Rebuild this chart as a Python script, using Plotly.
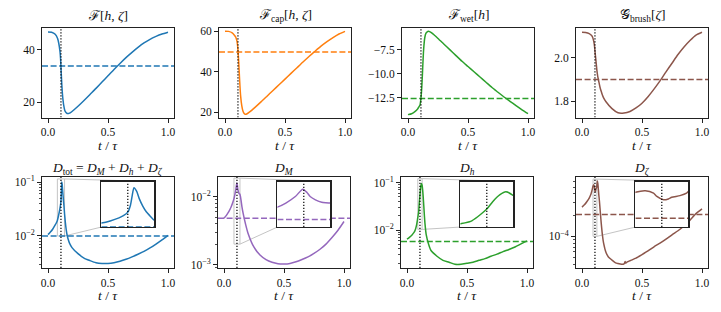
import math
import plotly.graph_objects as go

W, H = 721, 312
FONT = "Liberation Serif"

# ---------------- data ----------------
t_top = [0, 0.03, 0.06, 0.08, 0.09, 0.1, 0.105, 0.11, 0.115, 0.12, 0.125, 0.13, 0.14, 0.15,
         0.16, 0.17, 0.18, 0.2, 0.25, 0.3, 0.35, 0.4, 0.45, 0.5, 0.55, 0.6, 0.65, 0.7, 0.75,
         0.8, 0.85, 0.9, 0.95, 1.0]
F_total = [46.7, 46.6, 45.8, 44.2, 42.3, 39.2, 36.3, 31.2, 26.8, 23.2, 20.8, 19.0, 16.8, 16.0,
           15.65, 15.6, 15.75, 16.4, 18.4, 20.6, 22.9, 25.2, 27.6, 30.0, 32.4, 34.7, 36.9, 38.9,
           40.8, 42.5, 43.9, 45.0, 45.9, 46.6]
F_cap = [60.0, 59.9, 59.2, 57.9, 57.0, 55.0, 52.8, 49.0, 44.0, 38.0, 32.6, 28.3, 23.2, 20.6,
         19.5, 19.1, 19.2, 20.0, 22.5, 25.2, 28.0, 30.8, 33.6, 36.4, 39.2, 42.0, 44.8, 47.5,
         50.1, 52.6, 54.8, 56.8, 58.6, 59.9]
F_wet = [-14.3, -14.2, -13.95, -13.7, -13.5, -13.3, -12.9, -12.3, -11.4, -10.1, -8.7, -7.5, -6.2,
         -5.75, -5.6, -5.55, -5.58, -5.75, -6.3, -6.9, -7.5, -8.1, -8.7, -9.25, -9.8, -10.35,
         -10.9, -11.45, -11.95, -12.45, -12.9, -13.35, -13.8, -14.2]
G_brush = [2.118, 2.117, 2.112, 2.103, 2.093, 2.07, 2.05, 2.02, 1.994, 1.965, 1.938, 1.918, 1.89,
           1.864, 1.845, 1.828, 1.815, 1.797, 1.765, 1.746, 1.745, 1.752, 1.768, 1.79, 1.82,
           1.855, 1.893, 1.935, 1.975, 2.015, 2.05, 2.08, 2.105, 2.118]

t_tot = [0, 0.02, 0.04, 0.06, 0.07, 0.078, 0.088, 0.098, 0.103, 0.108, 0.111, 0.113, 0.115,
         0.118, 0.121, 0.125, 0.129, 0.133, 0.138, 0.145, 0.152, 0.16, 0.17, 0.18, 0.2, 0.25,
         0.3, 0.35, 0.4, 0.45, 0.5, 0.55, 0.6, 0.65, 0.7, 0.75, 0.8, 0.85, 0.9, 0.95, 1.0]
D_tot = [0.0106, 0.0118, 0.0135, 0.016, 0.0176, 0.0194, 0.024, 0.031, 0.036, 0.044, 0.060,
         0.082, 0.100, 0.092, 0.075, 0.058, 0.045, 0.036, 0.0256, 0.0175, 0.0130, 0.0102,
         0.0084, 0.0073, 0.0061, 0.0047, 0.0039, 0.0035, 0.0032, 0.0031, 0.0031, 0.0032,
         0.0034, 0.0037, 0.0041, 0.0046, 0.0052, 0.0060, 0.0071, 0.0085, 0.0103]

t_M = [0, 0.02, 0.04, 0.06, 0.07, 0.083, 0.091, 0.1, 0.107, 0.111, 0.114, 0.119, 0.125, 0.133,
       0.138, 0.143, 0.15, 0.16, 0.18, 0.2, 0.25, 0.3, 0.35, 0.4, 0.45, 0.5, 0.55, 0.6, 0.65,
       0.7, 0.75, 0.8, 0.85, 0.9, 0.95, 1.0]
D_M = [0.0048, 0.0053, 0.0060, 0.0071, 0.0079, 0.0093, 0.0108, 0.0132, 0.0159, 0.0147, 0.0132,
       0.0120, 0.0111, 0.0108, 0.0098, 0.0086, 0.0070, 0.0056, 0.0039, 0.0029, 0.0018, 0.00138,
       0.00118, 0.00108, 0.00103, 0.00102, 0.00104, 0.0011, 0.00119, 0.0013, 0.00146, 0.00168,
       0.0020, 0.0025, 0.0032, 0.0043]

t_h = [0, 0.02, 0.04, 0.06, 0.07, 0.08, 0.09, 0.097, 0.102, 0.108, 0.112, 0.117, 0.121, 0.126,
       0.13, 0.135, 0.14, 0.145, 0.15, 0.16, 0.18, 0.2, 0.25, 0.3, 0.35, 0.4, 0.45, 0.5, 0.55,
       0.6, 0.65, 0.7, 0.75, 0.8, 0.85, 0.9, 0.95, 1.0]
D_h = [0.0064, 0.0070, 0.0078, 0.0090, 0.0103, 0.0128, 0.0184, 0.024, 0.036, 0.054, 0.072,
       0.089, 0.096, 0.087, 0.072, 0.050, 0.032, 0.020, 0.0135, 0.0080, 0.0050, 0.0037, 0.0028,
       0.0023, 0.0021, 0.0019, 0.0019, 0.0020, 0.0021, 0.0023, 0.0025, 0.0028, 0.0031, 0.0035,
       0.0039, 0.0044, 0.0051, 0.0059]

t_z = [0, 0.02, 0.04, 0.06, 0.075, 0.085, 0.092, 0.098, 0.103, 0.105, 0.109, 0.112, 0.114,
       0.119, 0.123, 0.124, 0.128, 0.132, 0.136, 0.14, 0.145, 0.15, 0.16, 0.17, 0.18, 0.2, 0.22,
       0.25, 0.28, 0.3, 0.33, 0.35, 0.36, 0.365, 0.37, 0.4, 0.45, 0.5, 0.55, 0.6, 0.65, 0.7,
       0.75, 0.8, 0.85, 0.9, 0.95, 1.0]
D_zeta = [2.6e-4, 2.8e-4, 3.1e-4, 3.5e-4, 4.0e-4, 4.6e-4, 5.2e-4, 5.4e-4, 5.1e-4, 4.7e-4,
          4.3e-4, 4.4e-4, 4.6e-4, 4.8e-4, 5.1e-4, 5.3e-4, 6.1e-4, 5.6e-4, 4.7e-4, 3.9e-4,
          3.2e-4, 2.5e-4, 1.55e-4, 1.05e-4, 8.0e-5, 5.9e-5, 5.1e-5, 4.6e-5, 4.2e-5, 4.1e-5,
          4.0e-5, 4.05e-5, 4.4e-5, 4.15e-5, 4.25e-5, 4.5e-5, 4.9e-5, 5.5e-5, 6.2e-5, 7.1e-5,
          8.0e-5, 9.1e-5, 1.05e-4, 1.2e-4, 1.4e-4, 1.7e-4, 2.1e-4, 2.45e-4]

t_c = 0.108
means_top = [33.7, 49.7, -12.6, 1.90]
means_bot = [0.0100, 0.0048, 0.0057, 2.05e-4]

x_tickvals = [0.0, 0.5, 1.0]
x_ticktext = ["0.0", "0.5", "1.0"]
top_tickvals = [[20, 40], [20, 40, 60], [-12.5, -10.0, -7.5], [1.8, 2.0]]
top_ticktext = [["20", "40"], ["20", "40", "60"], ["\u221212.5", "\u221210.0", "\u22127.5"], ["1.8", "2.0"]]
log_tickvals = [1e-4, 1e-3, 1e-2, 1e-1]
log_ticktext = ["10<sup>\u22124</sup>", "10<sup>\u22123</sup>", "10<sup>\u22122</sup>", "10<sup>\u22121</sup>"]
log_minor = [m * 10.0 ** e for e in range(-6, 0) for m in range(2, 10)]

titles_top = ["\u2131[<i>h</i>, <i>\u03b6</i>]",
              "\u2131<sub>cap</sub>[<i>h</i>, <i>\u03b6</i>]",
              "\u2131<sub>wet</sub>[<i>h</i>]",
              "\U0001D4A2<sub>brush</sub>[<i>\u03b6</i>]"]
titles_bot = ["<i>D</i><sub>tot</sub> = <i>D</i><sub><i>M</i></sub> + <i>D</i><sub><i>h</i></sub> + <i>D</i><sub><i>\u03b6</i></sub>",
              "<i>D</i><sub><i>M</i></sub>",
              "<i>D</i><sub><i>h</i></sub>",
              "<i>D</i><sub><i>\u03b6</i></sub>"]
xlabel = "<i>t</i> / <i>\u03c4</i>"

# ---------------- styling / layout ----------------
top_colors = ["#1f77b4", "#ff7f0e", "#2ca02c", "#8c564b"]
bot_colors = ["#1f77b4", "#9467bd", "#2ca02c", "#8c564b"]
top_series = [(t_top, F_total), (t_top, F_cap), (t_top, F_wet), (t_top, G_brush)]
bot_series = [(t_tot, D_tot), (t_M, D_M), (t_h, D_h), (t_z, D_zeta)]

top_yrange = [[14.1, 48.4], [17.5, 61.8], [-14.6, -5.15], [1.724, 2.14]]
bot_yrange = [[-2.593, -0.907], [-3.05, -1.712], [-2.80, -0.883], [-4.45, -3.157]]
inset_x = [(0.078, 0.138), (0.083, 0.133), (0.09, 0.126), (0.092, 0.124)]
inset_y = [(0.01, 0.114), (0.002, 0.0187), (0.0103, 0.121), (1e-4, 6.5e-4)]
XR = [-0.05, 1.05]

top_rows = (27.5, 117.5)
bot_rows = (177.0, 268.0)
top_cols = [(42, 174), (219, 351), (402, 534), (576, 708)]
bot_cols = [(42, 174), (218, 350), (401, 533), (576, 708)]

FS = 11.5
TFS = 13.5
LC = "#222222"
DASH = "6px,2.6px"
DOT = "1.2px,1.8px"
GREY = "#c4c4c4"


def px(x):
    return x / W


def py(y):
    return 1 - y / H


fig = go.Figure()
layout = dict(width=W, height=H, margin=dict(l=0, r=0, t=0, b=0, autoexpand=False),
              paper_bgcolor="white", plot_bgcolor="white", showlegend=False,
              font=dict(family=FONT, size=FS, color="#111"))
shapes = []
annotations = []


def base_axis(dom, anchor):
    return dict(domain=dom, anchor=anchor, showgrid=False, zeroline=False, showline=True,
                mirror=True, linecolor=LC, linewidth=1, automargin=False,
                ticks="outside", ticklen=4, tickwidth=1, tickcolor=LC,
                tickfont=dict(family=FONT, size=FS, color="#111"))


def add_line(xax, yax, xs, ys, color, width, dash=None):
    ln = dict(color=color, width=width)
    if dash:
        ln["dash"] = dash
    fig.add_trace(go.Scatter(x=xs, y=ys, mode="lines", xaxis=xax, yaxis=yax, line=ln,
                             hoverinfo="skip"))


def sfx(i):
    return "" if i == 1 else str(i)


# top row
for k in range(4):
    i = k + 1
    x0, x1 = top_cols[k]
    y0, y1 = top_rows
    xa = base_axis([px(x0), px(x1)], "y" + sfx(i))
    xa.update(range=XR, tickmode="array", tickvals=x_tickvals, ticktext=x_ticktext)
    ya = base_axis([py(y1), py(y0)], "x" + sfx(i))
    ya.update(range=top_yrange[k], tickmode="array", tickvals=top_tickvals[k],
              ticktext=top_ticktext[k])
    layout["xaxis" + sfx(i)] = xa
    layout["yaxis" + sfx(i)] = ya
    t, v = top_series[k]
    xr, yr = "x" + sfx(i), "y" + sfx(i)
    fig.add_trace(go.Scatter(x=t, y=v, mode="lines", xaxis=xr, yaxis=yr,
                             line=dict(color=top_colors[k], width=1.5, shape="spline",
                                       smoothing=0.6), hoverinfo="skip"))
    add_line(xr, yr, XR, [means_top[k], means_top[k]], top_colors[k], 1.5, DASH)
    add_line(xr, yr, [t_c, t_c], top_yrange[k], "black", 1.2, DOT)
    cx = (x0 + x1) / 2
    annotations.append(dict(text=titles_top[k], x=px(cx), y=py(15), xref="paper", yref="paper",
                            showarrow=False, xanchor="center", yanchor="middle",
                            font=dict(family=FONT, size=TFS, color="#111")))
    annotations.append(dict(text=xlabel, x=px(cx), y=py(145), xref="paper", yref="paper",
                            showarrow=False, xanchor="center", yanchor="middle",
                            font=dict(family=FONT, size=TFS, color="#111")))

# bottom row
for k in range(4):
    i = k + 5
    j = k + 9
    x0, x1 = bot_cols[k]
    y0, y1 = bot_rows
    w, h = x1 - x0, y1 - y0
    lr0, lr1 = bot_yrange[k]
    xa = base_axis([px(x0), px(x1)], "y%d" % i)
    xa.update(range=XR, tickmode="array", tickvals=x_tickvals, ticktext=x_ticktext)
    ya = base_axis([py(y1), py(y0)], "x%d" % i)
    ya.update(type="log", range=bot_yrange[k], tickmode="array", tickvals=log_tickvals,
              ticktext=log_ticktext,
              minor=dict(ticks="outside", ticklen=2.2, tickwidth=0.8, tickcolor=LC,
                         tickmode="array", tickvals=log_minor, showgrid=False))
    layout["xaxis%d" % i] = xa
    layout["yaxis%d" % i] = ya
    t, v = bot_series[k]
    xr, yr = "x%d" % i, "y%d" % i
    ix0r, ix1r = inset_x[k]
    iy0r, iy1r = inset_y[k]
    # source rectangle (zoom indicator)
    add_line(xr, yr, [ix0r, ix1r, ix1r, ix0r, ix0r], [iy0r, iy0r, iy1r, iy1r, iy0r], GREY, 1)
    fig.add_trace(go.Scatter(x=t, y=v, mode="lines", xaxis=xr, yaxis=yr,
                             line=dict(color=bot_colors[k], width=1.5, shape="spline",
                                       smoothing=0.6), hoverinfo="skip"))
    add_line(xr, yr, XR, [means_bot[k], means_bot[k]], bot_colors[k], 1.5, DASH)
    add_line(xr, yr, [t_c, t_c], [10 ** lr0, 10 ** lr1], "black", 1.2, DOT)

    # inset axes placement (fraction of parent axes)
    ipx0, ipx1 = x0 + 0.45 * w, x0 + 0.85 * w
    ipy0, ipy1 = y1 - 0.95 * h, y1 - 0.45 * h

    def to_px(tv, yv):
        xx = x0 + (tv - XR[0]) / (XR[1] - XR[0]) * w
        yy = y1 - (math.log10(yv) - lr0) / (lr1 - lr0) * h
        return xx, yy

    sx, sy_top = to_px(ix1r, iy1r)
    _, sy_bot = to_px(ix1r, iy0r)
    shapes.append(dict(type="line", xref="paper", yref="paper", layer="below",
                       x0=px(sx), y0=py(sy_top), x1=px(ipx1), y1=py(ipy0),
                       line=dict(color=GREY, width=1)))
    shapes.append(dict(type="line", xref="paper", yref="paper", layer="below",
                       x0=px(sx), y0=py(sy_bot), x1=px(ipx0), y1=py(ipy1),
                       line=dict(color=GREY, width=1)))

    xi = base_axis([px(ipx0), px(ipx1)], "y%d" % j)
    xi.update(range=[ix0r, ix1r], ticks="", showticklabels=False, linewidth=1.3)
    yi = base_axis([py(ipy1), py(ipy0)], "x%d" % j)
    yi.update(range=[iy0r, iy1r], ticks="", showticklabels=False, linewidth=1.3)
    layout["xaxis%d" % j] = xi
    layout["yaxis%d" % j] = yi
    xr2, yr2 = "x%d" % j, "y%d" % j
    fig.add_trace(go.Scatter(x=t, y=v, mode="lines", xaxis=xr2, yaxis=yr2,
                             line=dict(color=bot_colors[k], width=1.5, shape="spline",
                                       smoothing=0.6), hoverinfo="skip"))
    add_line(xr2, yr2, [ix0r, ix1r], [means_bot[k], means_bot[k]], bot_colors[k], 1.5, DASH)
    add_line(xr2, yr2, [t_c, t_c], [iy0r, iy1r], "black", 1.2, DOT)

    cx = (x0 + x1) / 2
    annotations.append(dict(text=titles_bot[k], x=px(cx), y=py(168.5), xref="paper", yref="paper",
                            showarrow=False, xanchor="center", yanchor="middle",
                            font=dict(family=FONT, size=TFS, color="#111")))
    annotations.append(dict(text=xlabel, x=px(cx), y=py(295.5), xref="paper", yref="paper",
                            showarrow=False, xanchor="center", yanchor="middle",
                            font=dict(family=FONT, size=TFS, color="#111")))

layout["shapes"] = shapes
layout["annotations"] = annotations
fig.update_layout(**layout)
fig.write_html("out.html", config={"displayModeBar": False, "staticPlot": True},
               post_script="document.body.style.margin='0';document.body.style.overflow='hidden';")
